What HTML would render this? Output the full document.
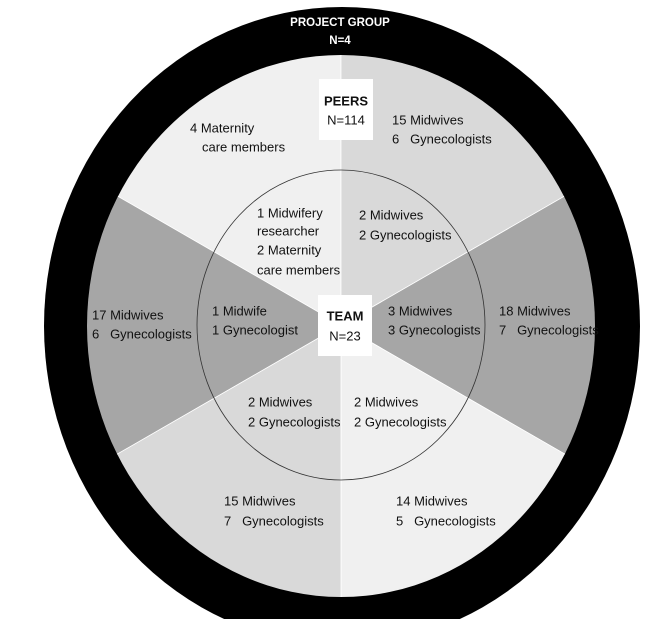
<!DOCTYPE html>
<html><head><meta charset="utf-8"><style>
html,body{margin:0;padding:0;background:#fff;overflow:hidden;}
svg{display:block;}
text{font-family:"Liberation Sans",sans-serif;font-size:13px;fill:#111;dominant-baseline:central;white-space:pre;}
.b{font-weight:bold;}
.w{fill:#fff;font-weight:bold;font-size:11.5px;}
</style></head><body>
<svg width="665" height="619" viewBox="0 0 665 619" xmlns="http://www.w3.org/2000/svg">
<defs>
<clipPath id="pie"><ellipse cx="341" cy="326" rx="254" ry="271"/></clipPath>
</defs>
<ellipse cx="342" cy="326" rx="298" ry="319" fill="#000"/>
<g clip-path="url(#pie)" stroke="#fff" stroke-width="0.8">
<polygon points="341,325 341,-300 -259,-21" fill="#f0f0f0"/>
<polygon points="341,325 341,-300 941,-21" fill="#d9d9d9"/>
<polygon points="341,325 941,-21 941,671" fill="#a6a6a6"/>
<polygon points="341,325 941,671 341,950" fill="#f0f0f0"/>
<polygon points="341,325 341,950 -259,671" fill="#d9d9d9"/>
<polygon points="341,325 -259,671 -259,-21" fill="#a6a6a6"/>
</g>
<ellipse cx="341" cy="325" rx="144" ry="155" fill="none" stroke="#333" stroke-width="0.8"/>
<rect x="319" y="79" width="54" height="61" fill="#fff"/>
<rect x="318" y="295" width="54" height="61" fill="#fff"/>
<text class="w" x="340" y="23" text-anchor="middle">PROJECT GROUP</text>
<text class="w" x="340" y="41" text-anchor="middle">N=4</text>
<text class="b" x="346" y="101" text-anchor="middle">PEERS</text>
<text x="346" y="120" text-anchor="middle">N=114</text>
<text class="b" x="345" y="316" text-anchor="middle">TEAM</text>
<text x="345" y="336" text-anchor="middle">N=23</text>
<text x="190" y="128">4 Maternity</text>
<text x="202" y="147">care members</text>
<text x="392" y="120">15 Midwives</text>
<text x="392" y="139">6   Gynecologists</text>
<text x="257" y="213">1 Midwifery</text>
<text x="257" y="231">researcher</text>
<text x="257" y="250">2 Maternity</text>
<text x="257" y="270">care members</text>
<text x="359" y="215">2 Midwives</text>
<text x="359" y="235">2 Gynecologists</text>
<text x="92" y="315">17 Midwives</text>
<text x="92" y="334">6   Gynecologists</text>
<text x="212" y="311">1 Midwife</text>
<text x="212" y="330">1 Gynecologist</text>
<text x="388" y="311">3 Midwives</text>
<text x="388" y="330">3 Gynecologists</text>
<text x="499" y="311">18 Midwives</text>
<text x="499" y="330">7   Gynecologists</text>
<text x="248" y="402">2 Midwives</text>
<text x="248" y="422">2 Gynecologists</text>
<text x="354" y="402">2 Midwives</text>
<text x="354" y="422">2 Gynecologists</text>
<text x="224" y="501">15 Midwives</text>
<text x="224" y="521">7   Gynecologists</text>
<text x="396" y="501">14 Midwives</text>
<text x="396" y="521">5   Gynecologists</text>
</svg>
</body></html>
